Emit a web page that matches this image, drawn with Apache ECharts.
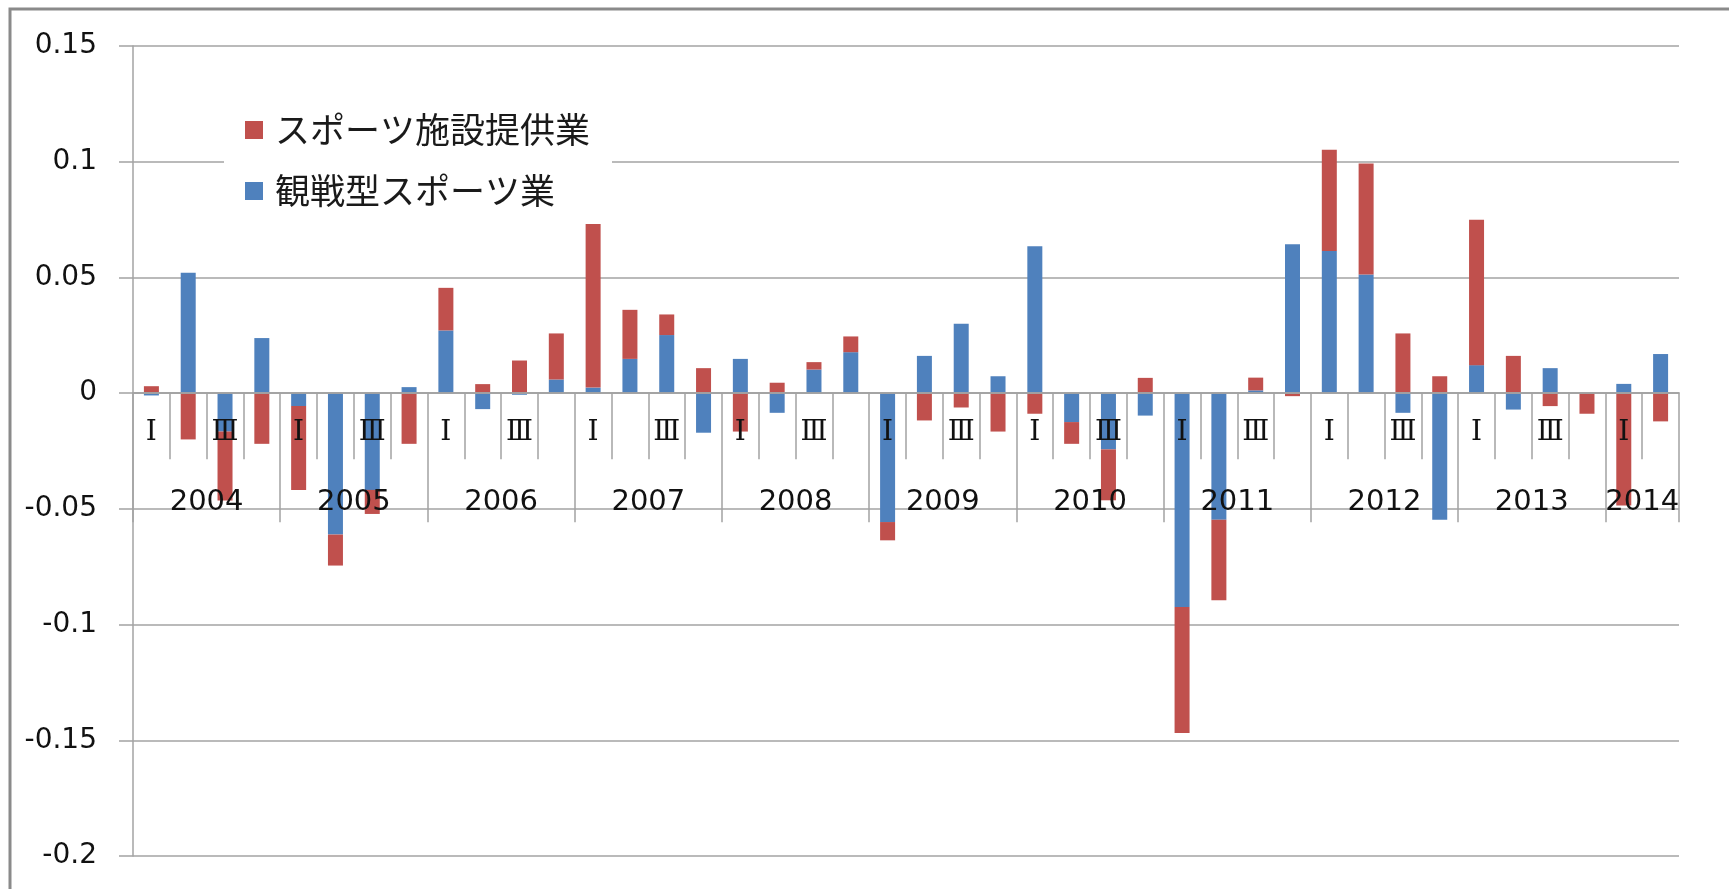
<!DOCTYPE html>
<html>
<head>
<meta charset="utf-8">
<script src="https://cdn.jsdelivr.net/npm/echarts@6/dist/echarts.min.js"></script>
<style>
  html, body { margin: 0; padding: 0; background: #fff; }
  #chart { width: 1729px; height: 889px; }
</style>
</head>
<body>
<div id="chart"></div>
<script>
// Quarterly contributions, 2004 Q1 – 2014 Q2
const years = ['2004', '2005', '2006', '2007', '2008', '2009', '2010', '2011', '2012', '2013', '2014'];
const quartersPerYear = [4, 4, 4, 4, 4, 4, 4, 4, 4, 4, 2];
const quarterMarks = ['Ⅰ', '', 'Ⅲ', ''];

const seriesNames = ['スポーツ施設提供業', '観戦型スポーツ業'];

// 観戦型スポーツ業 (blue)
const spectatorSports = [
  -0.0010, 0.0520, -0.0166, 0.0238,
  -0.0056, -0.0611, -0.0418, 0.0026,
  0.0271, -0.0069, -0.0007, 0.0059,
  0.0024, 0.0148, 0.0251, -0.0171,
  0.0148, -0.0085, 0.0102, 0.0177,
  -0.0557, 0.0161, 0.0300, 0.0073,
  0.0635, -0.0125, -0.0243, -0.0097,
  -0.0924, -0.0547, 0.0012, 0.0643,
  0.0614, 0.0513, -0.0085, -0.0547,
  0.0121, -0.0071, 0.0108, 0.0000,
  0.0040, 0.0169
];

// スポーツ施設提供業 (red)
const sportsFacilities = [
  0.0030, -0.0200, -0.0298, -0.0219,
  -0.0362, -0.0134, -0.0104, -0.0219,
  0.0184, 0.0039, 0.0141, 0.0199,
  0.0721, 0.0212, 0.0089, 0.0108,
  -0.0166, 0.0045, 0.0032, 0.0068,
  -0.0079, -0.0118, -0.0062, -0.0166,
  -0.0089, -0.0094, -0.0220, 0.0066,
  -0.0545, -0.0348, 0.0055, -0.0013,
  0.0438, 0.0479, 0.0258, 0.0073,
  0.0628, 0.0161, -0.0056, -0.0089,
  -0.0485, -0.0122
];

// Value axis range
const yMin = -0.2;
const yMax = 0.15;
const yStep = 0.05;

// Inner axis: one slot per quarter, marked with roman numerals
const quarterLabels = [];
quartersPerYear.forEach(function (n) {
  for (let q = 0; q < n; q++) quarterLabels.push(quarterMarks[q]);
});

// Outer axis: points on the quarter boundaries, year names at the middle of each year
const yearAxisData = new Array(quarterLabels.length + 1).fill('');
const yearBoundaries = { 0: true };
let pos = 0;
quartersPerYear.forEach(function (n, i) {
  yearAxisData[pos + n / 2] = years[i];
  pos += n;
  yearBoundaries[pos] = true;
});

const W = 1729, H = 889;
const plotLeft = 133, plotRight = 50, plotTop = 46, plotBottom = 33;
// The category axes sit on the zero line: a second grid ends exactly there
const zeroY = plotTop + (H - plotTop - plotBottom) * (yMax / (yMax - yMin));

const gridColor = '#a3a3a3';
const chart = echarts.init(document.getElementById('chart'));

chart.setOption({
  backgroundColor: '#ffffff',
  animation: false,
  graphic: [{
    type: 'rect',
    shape: { x: 10, y: 9, width: 1800, height: 1000 },
    style: { fill: 'none', stroke: '#8a8a8a', lineWidth: 3 },
    silent: true
  }],
  legend: {
    data: seriesNames,
    orient: 'vertical',
    left: 224,
    top: 97,
    padding: [12, 22, 12, 21],
    backgroundColor: '#ffffff',
    itemWidth: 18,
    itemHeight: 18,
    itemGap: 19,
    icon: 'rect',
    textStyle: {
      fontFamily: 'Noto Sans CJK JP',
      fontSize: 35,
      lineHeight: 42,
      color: '#1a1a1a',
      padding: [0, 0, 0, 7]
    }
  },
  grid: [{
    left: plotLeft,
    right: plotRight,
    top: plotTop,
    bottom: plotBottom,
    containLabel: false,
    outerBoundsMode: 'none'
  }, {
    left: plotLeft,
    right: plotRight,
    top: plotTop,
    height: zeroY - plotTop,
    containLabel: false,
    outerBoundsMode: 'none'
  }],
  xAxis: [{
    // carries the bars
    type: 'category',
    gridIndex: 0,
    data: quarterLabels,
    axisLine: { show: false },
    axisTick: { show: false },
    axisLabel: { show: false },
    splitLine: { show: false }
  }, {
    // quarter marks on the zero line, drawn above the bars
    type: 'category',
    gridIndex: 1,
    z: 5,
    data: quarterLabels,
    position: 'bottom',
    axisLine: { onZero: false, lineStyle: { color: gridColor, width: 1.5 } },
    axisTick: { show: true, interval: 0, length: 66, lineStyle: { color: gridColor, width: 1.5 } },
    axisLabel: {
      interval: 0,
      margin: 26,
      fontFamily: 'DejaVu Serif',
      fontSize: 28,
      color: '#111'
    },
    splitLine: { show: false }
  }, {
    // years, with long ticks at the year boundaries
    type: 'category',
    gridIndex: 1,
    z: 5,
    data: yearAxisData,
    boundaryGap: false,
    position: 'bottom',
    axisLine: { onZero: false, lineStyle: { color: gridColor, width: 1.5 } },
    axisTick: {
      show: true,
      length: 129,
      interval: function (idx) { return !!yearBoundaries[idx]; },
      lineStyle: { color: gridColor, width: 1.5 }
    },
    axisLabel: {
      interval: function (idx, val) { return val !== ''; },
      margin: 95,
      fontFamily: 'DejaVu Sans',
      fontSize: 29,
      color: '#111'
    },
    splitLine: { show: false }
  }],
  yAxis: [{
    type: 'value',
    gridIndex: 0,
    min: yMin,
    max: yMax,
    interval: yStep,
    axisLine: { show: true, lineStyle: { color: gridColor, width: 1.5 } },
    axisTick: { show: true, length: 14, lineStyle: { color: gridColor, width: 1.5 } },
    axisLabel: {
      margin: 36,
      fontFamily: 'DejaVu Sans',
      fontSize: 28,
      color: '#111',
      formatter: function (v) { return String(+v.toFixed(2)); }
    },
    splitLine: { show: true, lineStyle: { color: gridColor, width: 1.5 } }
  }, {
    type: 'value',
    gridIndex: 1,
    min: 0,
    max: 1,
    show: false
  }],
  series: [{
    name: seriesNames[1],
    type: 'bar',
    stack: 'total',
    xAxisIndex: 0,
    yAxisIndex: 0,
    barWidth: 15,
    data: spectatorSports,
    itemStyle: { color: '#4f81bd' }
  }, {
    name: seriesNames[0],
    type: 'bar',
    stack: 'total',
    xAxisIndex: 0,
    yAxisIndex: 0,
    barWidth: 15,
    data: sportsFacilities,
    itemStyle: { color: '#c0504d' }
  }]
});
</script>
</body>
</html>
